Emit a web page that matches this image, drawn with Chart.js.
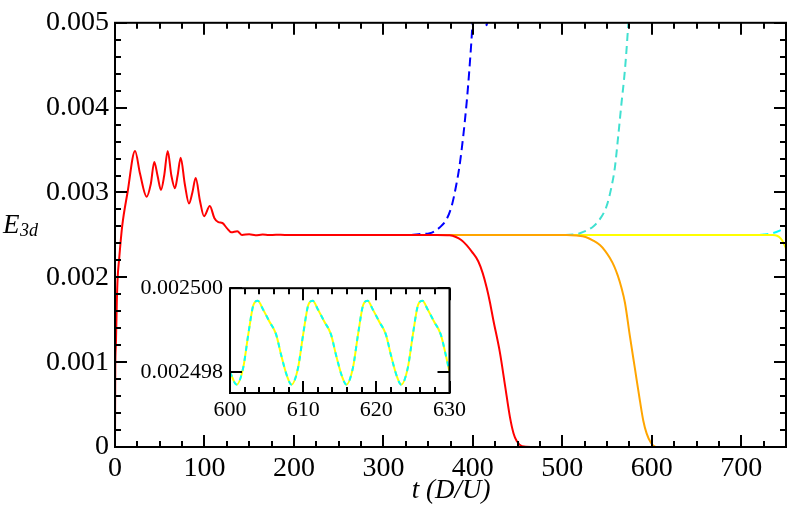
<!DOCTYPE html>
<html>
<head>
<meta charset="utf-8">
<script src="https://cdn.jsdelivr.net/npm/chart.js@4.4.1/dist/chart.umd.min.js"></script>
<style>
  html, body { margin: 0; padding: 0; background: #fff; }
  #wrap { position: relative; width: 789px; height: 506px; }
  #mainChart { position: absolute; left: 0; top: 0; }
  #insetChart { position: absolute; left: 126px; top: 268px; }
</style>
</head>
<body>
<div id="wrap">
  <canvas id="mainChart" width="789" height="506"></canvas>
  <canvas id="insetChart" width="344" height="150"></canvas>
</div>
<script>
// red run from the start; the other runs sit under it until t ~ 300
const redT = [0, 0.3, 1, 2, 3, 4.5, 8, 14, 22.4, 28, 35.4, 40, 43.9, 47.5, 51.4, 55, 58.9, 63, 67, 70, 73.4, 78, 82.7, 86.5, 90.2, 95, 99.5, 106, 111, 115.5, 120, 125, 130, 136.7, 142, 150, 157, 165, 172, 180, 190, 200, 250, 300, 360, 374, 381, 387, 393, 399, 406, 411, 415.4, 419, 422.8, 430.3, 435.9, 441.5, 445.5, 449, 455, 465, 470];
const redE = [0, 0.0009, 0.0012, 0.0017, 0.0020, 0.0022, 0.0026, 0.0030, 0.00349, 0.00322, 0.00295, 0.0031, 0.00336, 0.0032, 0.00303, 0.0032, 0.00349, 0.0032, 0.00305, 0.0032, 0.00341, 0.0031, 0.00287, 0.0030, 0.00317, 0.0029, 0.00272, 0.00284, 0.0027, 0.00265, 0.00264, 0.00258, 0.00253, 0.002544, 0.0025, 0.002507, 0.002496, 0.002504, 0.002498, 0.002502, 0.0025, 0.0025, 0.0025, 0.0025, 0.0025, 0.002495, 0.002475, 0.00244, 0.00238, 0.0023, 0.00219, 0.00205, 0.00188, 0.00171, 0.0015, 0.00111, 0.00073, 0.00035, 0.00016, 0.00007, 0.00001, 0, 0];

const blueT = [300, 330, 341, 352, 363.2, 370.7, 376.3, 381.1, 384.9, 389.4, 393.1, 396.1, 399.5, 403, 410, 415.5, 419, 425];
const blueE = [0.0025, 0.0025, 0.00251, 0.00252, 0.00259, 0.002686, 0.00284, 0.00307, 0.0033, 0.00368, 0.004066, 0.00445, 0.004985, 0.0058, 0.0055, 0.00497, 0.0057, 0.007];

const orangeT = [300, 505, 516, 526, 535, 542, 548, 553, 558, 562, 566, 570, 575.6, 581.2, 586.8, 590.5, 594.2, 599, 605, 620];
const orangeE = [0.0025, 0.0025, 0.002492, 0.002475, 0.00243, 0.00238, 0.00231, 0.00223, 0.00213, 0.00202, 0.00188, 0.0017, 0.0013, 0.00092, 0.00054, 0.00031, 0.00016, 0.00005, 0, 0];

const turqT = [300, 500, 512, 519.7, 534.6, 542, 549.5, 555, 558.8, 562.6, 566.3, 570, 573.7, 577, 582];
const turqE = [0.0025, 0.0025, 0.002505, 0.00252, 0.0026, 0.002686, 0.00284, 0.00307, 0.0033, 0.00368, 0.00407, 0.00445, 0.004985, 0.0056, 0.0065];

const yellowT = [300, 600, 700, 735, 740, 744, 747, 750];
const yellowE = [0.0025, 0.0025, 0.0025, 0.002498, 0.00249, 0.00246, 0.00241, 0.00234];

const cyanT = [300, 600, 715, 725, 735, 743, 750];
const cyanE = [0.0025, 0.0025, 0.0025, 0.002505, 0.00252, 0.00255, 0.00259];

// inset: zoom on 600..630
const insetT = [600, 600.9, 601.8, 602.5, 603.2, 603.8, 604.5, 605.4, 606.3, 607, 607.8, 608.4, 609.3, 610, 610.7, 611.3, 612, 612.9, 613.8, 614.5, 615.3, 615.9, 616.8, 617.5, 618.2, 618.8, 619.5, 620.4, 621.3, 622, 622.8, 623.4, 624.3, 625, 625.7, 626.3, 627, 627.9, 628.8, 629.5, 630];
const insetE = [0.0024980, 0.0024977, 0.0024981, 0.0024989, 0.0024996, 0.0024997, 0.0024995, 0.0024992, 0.0024989, 0.0024984, 0.0024979, 0.0024977, 0.0024981, 0.0024989, 0.0024996, 0.0024997, 0.0024995, 0.0024992, 0.0024989, 0.0024984, 0.0024979, 0.0024977, 0.0024981, 0.0024989, 0.0024996, 0.0024997, 0.0024995, 0.0024992, 0.0024989, 0.0024984, 0.0024979, 0.0024977, 0.0024981, 0.0024989, 0.0024996, 0.0024997, 0.0024995, 0.0024992, 0.0024989, 0.0024984, 0.0024980];

const xTicks = [0, 100, 200, 300, 400, 500, 600, 700];
const yTicks = [0, 0.001, 0.002, 0.003, 0.004, 0.005];
const insetXTicks = [600, 610, 620, 630];
const insetYTicks = [0.002498, 0.0025];

function pts(ts, es) {
    return ts.map((t, i) => ({ x: t, y: es[i] }));
}

const serif = "'Liberation Serif', 'DejaVu Serif', serif";

// frame + inward ticks (major and minor), mirrored on all four sides
function frameTicks(opts) {
    return {
        id: "frameTicks",
        afterDraw(chart) {
            const c = chart.ctx;
            const a = chart.chartArea;
            const xs = chart.scales.x, ys = chart.scales.y;
            c.save();
            c.strokeStyle = "#000";
            c.lineWidth = 2;
            c.beginPath();
            for (let v = xs.min; v <= xs.max + 1e-9; v += opts.xMinor) {
                const px = Math.round(xs.getPixelForValue(v));
                const major = opts.xMajor.some(m => Math.abs(m - v) < 1e-9);
                const len = major ? opts.majLen : opts.minLen;
                c.moveTo(px, a.bottom); c.lineTo(px, a.bottom - len);
                c.moveTo(px, a.top); c.lineTo(px, a.top + len);
            }
            if (opts.yMinor) {
                for (let k = 0; ys.min + k * opts.yMinor <= ys.max + 1e-12; k++) {
                    const v = ys.min + k * opts.yMinor;
                    const py = Math.round(ys.getPixelForValue(v));
                    c.moveTo(a.left, py); c.lineTo(a.left + opts.minLen, py);
                    c.moveTo(a.right, py); c.lineTo(a.right - opts.minLen, py);
                }
            }
            opts.yMajor.forEach(v => {
                const py = Math.round(ys.getPixelForValue(v));
                c.moveTo(a.left, py); c.lineTo(a.left + opts.majLen, py);
                c.moveTo(a.right, py); c.lineTo(a.right - opts.majLen, py);
            });
            c.stroke();
            c.strokeRect(a.left, a.top, a.right - a.left, a.bottom - a.top);
            c.restore();
        }
    };
}

const titles = {
    id: "titles",
    afterDraw(chart) {
        const c = chart.ctx;
        c.save();
        c.fillStyle = "#000";
        c.textAlign = "center";
        c.textBaseline = "alphabetic";
        c.font = "italic 27px " + serif;
        c.fillText("t (D/U)", 451, 498);
        c.textAlign = "left";
        c.fillText("E", 3, 233);
        c.font = "italic 18px " + serif;
        c.fillText("3d", 20, 236);
        c.restore();
    }
};

function line(data, color, dash) {
    return {
        data: data,
        borderColor: color,
        borderWidth: 2,
        borderDash: dash || [],
        pointRadius: 0,
        fill: false,
        cubicInterpolationMode: "monotone",
    };
}

const mainChart = new Chart(document.getElementById("mainChart"), {
    type: "line",
    data: {
        datasets: [
            line(pts(redT, redE), "#ff0000"),
            line(pts(blueT, blueE), "#0000ff", [9, 5]),
            line(pts(orangeT, orangeE), "#ffa500"),
            line(pts(turqT, turqE), "#40e0d0", [8, 5]),
            line(pts(yellowT, yellowE), "#ffff00"),
            line(pts(cyanT, cyanE), "#00ffff", [8, 5]),
        ]
    },
    options: {
        responsive: false,
        animation: false,
        layout: { padding: { top: 12, right: 3, left: 0, bottom: 0 } },
        plugins: { legend: { display: false }, tooltip: { enabled: false } },
        scales: {
            x: {
                type: "linear",
                min: 0, max: 750,
                afterFit: s => { s.height = 59; },
                afterBuildTicks: s => { s.ticks = xTicks.map(v => ({ value: v })); },
                grid: { display: false, drawTicks: false },
                border: { display: false },
                ticks: { padding: 5, color: "#000", font: { family: serif, size: 28 }, maxRotation: 0 }
            },
            y: {
                type: "linear",
                min: 0, max: 0.005,
                afterFit: s => { s.width = 115; },
                afterBuildTicks: s => { s.ticks = yTicks.map(v => ({ value: v })); },
                grid: { display: false, drawTicks: false },
                border: { display: false },
                ticks: {
                    padding: 6, color: "#000", font: { family: serif, size: 28 },
                    callback: v => v === 0 ? "0" : v.toFixed(3)
                }
            }
        }
    },
    plugins: [frameTicks({ xMinor: 25, xMajor: xTicks, yMinor: 0.0002, yMajor: yTicks, majLen: 12, minLen: 6 }), titles]
});

const insetChart = new Chart(document.getElementById("insetChart"), {
    type: "line",
    data: {
        datasets: [
            line(pts(insetT, insetE), "#00ffff", [5, 5]),
            line(pts(insetT, insetE), "#ffff00"),
        ]
    },
    options: {
        responsive: false,
        animation: false,
        layout: { padding: { top: 12, right: 19, left: 0, bottom: 0 } },
        plugins: { legend: { display: false }, tooltip: { enabled: false } },
        scales: {
            x: {
                type: "linear",
                min: 600, max: 630,
                afterFit: s => { s.height = 25; },
                afterBuildTicks: s => { s.ticks = insetXTicks.map(v => ({ value: v })); },
                grid: { display: false, drawTicks: false },
                border: { display: false },
                ticks: { padding: 4, color: "#000", font: { family: serif, size: 22 }, maxRotation: 0 }
            },
            y: {
                type: "linear",
                min: 0.0024975, max: 0.0025,
                afterFit: s => { s.width = 104; },
                afterBuildTicks: s => { s.ticks = insetYTicks.map(v => ({ value: v })); },
                grid: { display: false, drawTicks: false },
                border: { display: false },
                ticks: {
                    padding: 7, color: "#000", font: { family: serif, size: 22 },
                    callback: v => v.toFixed(6)
                }
            }
        }
    },
    plugins: [frameTicks({ xMinor: 2, xMajor: insetXTicks, yMinor: 0, yMajor: insetYTicks, majLen: 12, minLen: 6 })]
});
</script>
</body>
</html>
